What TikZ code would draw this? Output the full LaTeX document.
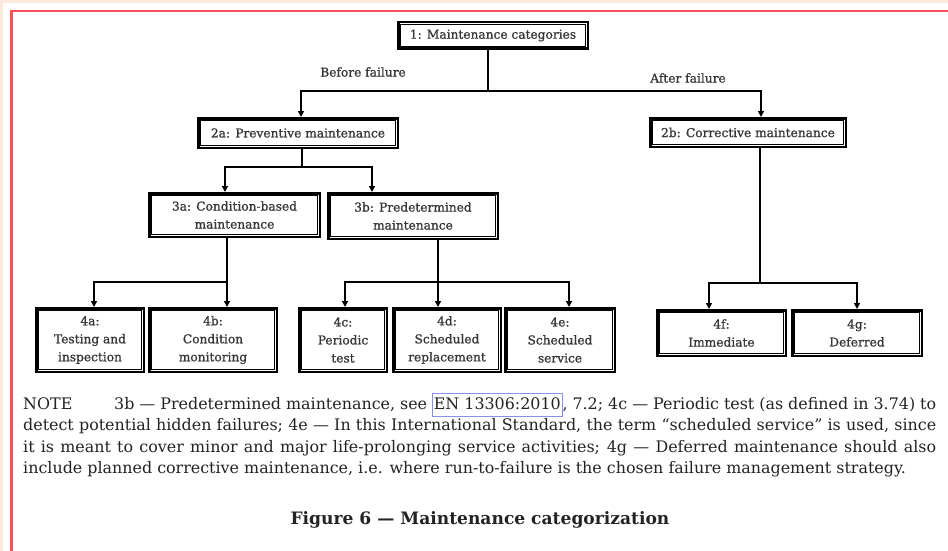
\documentclass[tikz,border=0pt]{standalone}
\usepackage{fontspec}
\setmainfont{DejaVu Serif}
\newfontfamily\boxfont{DejaVu Serif}[FakeBold=1]
\newfontfamily\notefont{DejaVu Serif}
\usetikzlibrary{arrows.meta}

\definecolor{peach}{RGB}{253,233,220}
\definecolor{frame}{RGB}{250,80,85}
\definecolor{boxtext}{RGB}{55,55,55}
\definecolor{notetext}{RGB}{35,35,35}
\definecolor{linkblue}{RGB}{140,140,240}

\tikzset{
  catbox/.style={draw=black, line width=2.5pt, inner sep=0pt, align=center,
    text=boxtext, font=\boxfont\fontsize{12.2}{18}\selectfont},
  conn/.style={line width=1.4pt},
  arr/.style={line width=1.4pt, -{Triangle[length=6pt,width=6pt]}},
  lbl/.style={inner sep=0pt, text=boxtext, font=\boxfont\fontsize{12.2}{18}\selectfont},
  noteline/.style={inner sep=0pt, anchor=base west, text=notetext,
    font=\notefont\fontsize{15.9}{21}\selectfont},
}

% second, thinner outline inside each box
\newcommand{\innerframe}[1]{%
  \draw[line width=0.9pt] ([shift={(3.7pt,-3.7pt)}]#1.north west) rectangle ([shift={(-3.7pt,3.7pt)}]#1.south east);}

% framed reference link
\newcommand{\linkbox}[1]{{\setlength\fboxsep{1pt}\setlength\fboxrule{0.7pt}%
  \color{linkblue}\fbox{\color{notetext}\strut#1}}}

\begin{document}
\begin{tikzpicture}[x=1pt,y=-1pt]
\useasboundingbox (0,0) rectangle (948,551);

% page background and frame
\fill[peach] (0,0) rectangle (948,551);
\fill[white] (3,3) rectangle (948,551);
\draw[frame, line width=2.8pt] (11.5,551) -- (11.5,11) -- (948,11);

% boxes
\node[catbox, minimum width=189.5pt, minimum height=26.5pt] (n1) at (493,35.5) {1: Maintenance categories};
\node[catbox, minimum width=199.5pt, minimum height=29.5pt] (n2a) at (298,133) {2a: Preventive maintenance};
\node[catbox, minimum width=195.5pt, minimum height=28.5pt] (n2b) at (748,132.5) {2b: Corrective maintenance};
\node[catbox, minimum width=170.5pt, minimum height=43.5pt] (n3a) at (234.5,215) {3a: Condition-based\\maintenance};
\node[catbox, minimum width=169.5pt, minimum height=45.5pt] (n3b) at (413,216) {3b: Predetermined\\maintenance};
\node[catbox, minimum width=107.5pt, minimum height=63.5pt] (n4a) at (90,340) {4a:\\Testing and\\inspection};
\node[catbox, minimum width=127.5pt, minimum height=63.5pt] (n4b) at (213,340) {4b:\\Condition\\monitoring};
\node[catbox, minimum width=87.5pt, minimum height=63.5pt] (n4c) at (343,340) {4c:\\Periodic\\test};
\node[catbox, minimum width=107.5pt, minimum height=63.5pt] (n4d) at (447,340) {4d:\\Scheduled\\replacement};
\node[catbox, minimum width=109.5pt, minimum height=63.5pt] (n4e) at (560,340) {4e:\\Scheduled\\service};
\node[catbox, minimum width=128.5pt, minimum height=45.5pt] (n4f) at (721.5,333) {4f:\\Immediate};
\node[catbox, minimum width=129.5pt, minimum height=45.5pt] (n4g) at (857,333) {4g:\\Deferred};

\foreach \b in {n1,n2a,n2b,n3a,n3b,n4a,n4b,n4c,n4d,n4e,n4f,n4g}{\innerframe{\b}}

% branch points
\coordinate (j1) at (488,91);
\coordinate (j2) at (302,167);
\coordinate (j3) at (227,282);
\coordinate (j4) at (438,282);
\coordinate (j5) at (760,283);

% connectors
\draw[conn] ([xshift=-5pt]n1.south) -- (j1);
\draw[arr] (j1) -| ([xshift=3pt]n2a.north);
\draw[arr] (j1) -| ([xshift=13pt]n2b.north);

\draw[conn] ([xshift=4pt]n2a.south) -- (j2);
\draw[arr] (j2) -| ([xshift=-9.5pt]n3a.north);
\draw[arr] (j2) -| ([xshift=-41pt]n3b.north);

\draw[conn] ([xshift=-7.5pt]n3a.south) -- (j3);
\draw[arr] (j3) -| ([xshift=4pt]n4a.north);
\draw[arr] (j3) -| ([xshift=14pt]n4b.north);

\draw[conn] ([xshift=25pt]n3b.south) -- (j4);
\draw[arr] (j4) -| ([xshift=2pt]n4c.north);
\draw[arr] (j4) -| ([xshift=-9pt]n4d.north);
\draw[arr] (j4) -| ([xshift=9pt]n4e.north);

\draw[conn] ([xshift=12pt]n2b.south) -- (j5);
\draw[arr] (j5) -| ([xshift=-12.5pt]n4f.north);
\draw[arr] (j5) -| (n4g.north);

% branch labels
\node[lbl] (before) at (363,72) {Before failure};
\node[lbl] (after) at (688,78) {After failure};

% note
\node[noteline] (note1) at (23,409) {\hbox to 913pt{\makebox[91pt][l]{NOTE}3b — Predetermined maintenance, see \linkbox{EN 13306:2010}, 7.2; 4c — Periodic test (as defined in 3.74) to}};
\node[noteline] (note2) at (23,430.5) {\hbox to 913pt{detect potential hidden failures; 4e — In this International Standard, the term “scheduled service” is used, since}};
\node[noteline] (note3) at (23,452) {\hbox to 913pt{it is meant to cover minor and major life-prolonging service activities; 4g — Deferred maintenance should also}};
\node[noteline] (note4) at (23,473) {include planned corrective maintenance, i.e. where run-to-failure is the chosen failure management strategy.};

% caption
\node[inner sep=0pt, anchor=base, text=notetext, font=\notefont\bfseries\fontsize{17.1}{22}\selectfont] (caption) at (480,524) {Figure 6 — Maintenance categorization};
\end{tikzpicture}
\end{document}
